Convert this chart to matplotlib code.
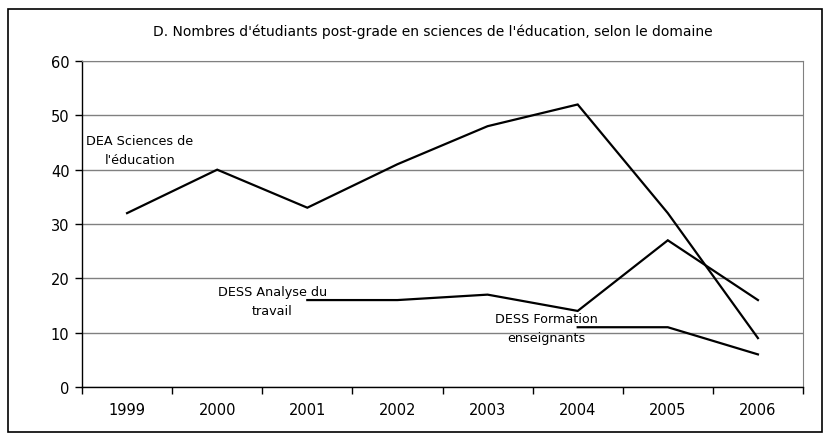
import matplotlib.pyplot as plt
import numpy as np
from matplotlib.patches import Rectangle

years = ['1999', '2000', '2001', '2002', '2003', '2004', '2005', '2006']
dea = [32, 40, 33, 41, 48, 52, 32, 9]
dess_travail = [np.nan, np.nan, 16, 16, 17, 14, 27, 16]
dess_formation = [np.nan, np.nan, np.nan, np.nan, np.nan, 11, 11, 6]

plt.rcParams['font.family'] = ['DejaVu Sans']

fig = plt.figure(figsize=(8.3, 4.39), dpi=100)
ax = fig.add_axes([82 / 830, 1 - 388 / 439, 721 / 830, 326 / 439])

x = np.arange(len(years))
for series in (dea, dess_travail, dess_formation):
    ax.plot(x, series, color='black', linewidth=1.6, solid_joinstyle='miter')

# series labels placed beside the lines
label_style = dict(ha='center', va='center', fontsize=9.2, linespacing=1.65)
ax.text(0.14, 43.6, "DEA Sciences de\nl'éducation", **label_style)
ax.text(1.61, 15.8, "DESS Analyse du\ntravail", **label_style)
ax.text(4.65, 10.9, "DESS Formation\nenseignants", **label_style)

ax.set_xlim(-0.5, len(years) - 0.5)
ax.set_ylim(0, 60)
ax.set_yticks(range(0, 61, 10))
ax.set_xticks(x)
ax.set_xticklabels(years)
ax.set_xticks(np.arange(-0.5, len(years)), minor=True)
ax.tick_params(axis='x', which='major', length=0, pad=11, labelsize=10.5)
ax.tick_params(axis='x', which='minor', length=5, width=1, direction='out')
ax.tick_params(axis='y', length=5, width=1, direction='out', pad=4, labelsize=10.5)

ax.grid(axis='y', color='#808080', linewidth=1)
ax.set_axisbelow(True)
for side in ('top', 'right'):
    ax.spines[side].set_color('#808080')
for side in ('left', 'bottom'):
    ax.spines[side].set_color('black')
    ax.spines[side].set_linewidth(1)

fig.text(433 / 830, 1 - 32 / 439,
         "D. Nombres d'étudiants post-grade en sciences de l'éducation, selon le domaine",
         ha='center', va='center', fontsize=10)

fig.patches.append(Rectangle((8 / 830, 1 - 433 / 439), 814 / 830, 423 / 439,
                             transform=fig.transFigure, fill=False,
                             edgecolor='black', linewidth=1.2))

fig.savefig('out.png', dpi=100)
